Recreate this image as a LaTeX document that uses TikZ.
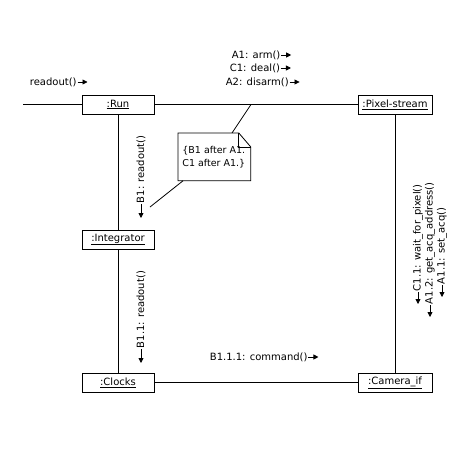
\documentclass[tikz,border=0pt]{standalone}
\usepackage{fontspec}
\setmainfont{DejaVu Sans}
\usetikzlibrary{arrows.meta}

\tikzset{
  obj/.style={draw, minimum width=72pt, minimum height=19pt, inner sep=0pt, fill=white,
    font=\fontsize{10}{12}\selectfont},
  lbl/.style={inner sep=0.5pt, font=\fontsize{10}{12}\selectfont},
  msg/.style={-{Triangle[length=5pt,width=5pt]}},
}

\begin{document}
\begin{tikzpicture}[x=1pt,y=-1pt,line width=0.8pt]
      \useasboundingbox (0,0) rectangle (460,455);
      \begin{scope}
        \node[obj] (run) at (118,104.5) {\underline{:Run}};
        \node[obj, minimum width=74pt] (pix) at (395,104.5) {\underline{:Pixel-stream}};
        \node[obj] (integ) at (118,239.5) {\underline{:Integrator}};
        \node[obj] (clk) at (118,382.5) {\underline{:Clocks}};
        \node[obj, minimum width=74pt] (cam) at (395,382.5) {\underline{:Camera\_if}};

        \coordinate (lft) at (23,104.5);
        \draw (lft) -- (run);
        \draw (run) -- (pix);
        \draw (run) -- (integ);
        \draw (integ) -- (clk);
        \draw (clk) -- (cam);
        \draw (pix) -- (cam);
      \end{scope}
      \begin{scope}
        \node[minimum width=72pt, minimum height=47pt, inner sep=0pt, anchor=north west] (note) at (178,133) {};
        \draw (note.north west) -- ([xshift=-12pt]note.north east) -- ([yshift=-14pt]note.north east)
          -- (note.south east) -- (note.south west) -- cycle;
        \draw ([xshift=-12pt]note.north east) -- ([xshift=-12pt,yshift=-14pt]note.north east)
          -- ([yshift=-14pt]note.north east);
        \node[inner sep=0pt, anchor=north west, align=left, font=\fontsize{9.5}{13}\selectfont] (notetxt)
          at (182,146) {\{B1 after A1.\\C1 after A1.\}};

        \coordinate (lk) at (251,104.5);
        \coordinate (b1c) at (150,207);
        \draw ([xshift=54pt]note.north west) -- (lk);
        \draw ([xshift=5pt]note.south west) -- (b1c);
      \end{scope}
      \begin{scope}
        \node[lbl, anchor=west] (ro) at (29,82) {readout()};
        \draw[msg] (ro.east) -- ++(10,0);

        \node[lbl, anchor=west] (a1) at (231,55) {A1: arm()};
        \draw[msg] (a1.east) -- ++(10,0);
        \node[lbl, anchor=west] (c1) at (229,68) {C1: deal()};
        \draw[msg] (c1.east) -- ++(10,0);
        \node[lbl, anchor=west] (a2) at (225,82) {A2: disarm()};
        \draw[msg] (a2.east) -- ++(10,0);

        \node[lbl, rotate=90, anchor=west] (b1) at (141,204) {B1: readout()};
        \draw[msg] (b1.west) -- ++(0,14);
        \node[lbl, rotate=90, anchor=west] (b11) at (141,349) {B1.1: readout()};
        \draw[msg] (b11.west) -- ++(0,14);

        \node[lbl, anchor=west] (b111) at (209,357) {B1.1.1: command()};
        \draw[msg] (b111.east) -- ++(10,0);

        \node[lbl, rotate=90, anchor=west] (c11) at (418,292) {C1.1: wait\_for\_pixel()};
        \draw[msg] (c11.west) -- ++(0,12);
        \node[lbl, rotate=90, anchor=west] (a12) at (430,305) {A1.2: get\_acq\_address()};
        \draw[msg] (a12.west) -- ++(0,12);
        \node[lbl, rotate=90, anchor=west] (a11) at (442,285) {A1.1: set\_acq()};
        \draw[msg] (a11.west) -- ++(0,12);
      \end{scope}
    \end{tikzpicture}
\end{document}
